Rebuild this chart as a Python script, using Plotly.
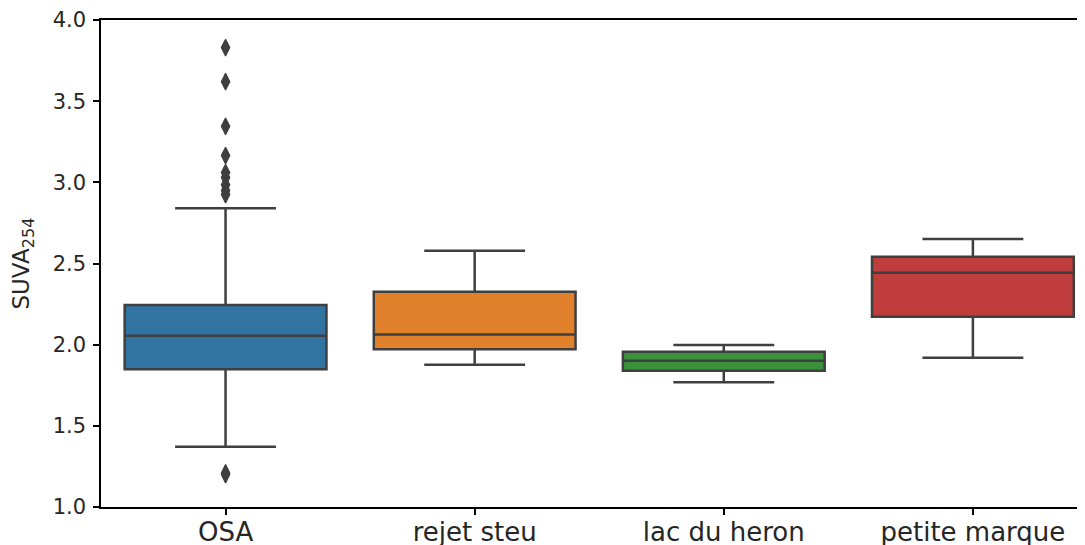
import plotly.graph_objects as go

categories = ["OSA", "rejet steu", "lac du heron", "petite marque"]
q1 = [1.848, 1.971, 1.840, 2.172]
median = [2.055, 2.063, 1.901, 2.443]
q3 = [2.244, 2.326, 1.957, 2.542]
lower_whisker = [1.371, 1.877, 1.768, 1.920]
upper_whisker = [2.840, 2.579, 1.998, 2.651]
colors = ["#3274a1", "#e1812c", "#3a923a", "#c03d3e"]

outlier_category = ["OSA"] * 11
outlier_values = [3.83, 3.62, 3.345, 3.165, 3.06, 3.03, 2.985, 2.95, 2.925, 1.21, 1.20]

y_ticks = [1.0, 1.5, 2.0, 2.5, 3.0, 3.5, 4.0]

edge = "#3f3f3f"
fig = go.Figure()
for i, cat in enumerate(categories):
    fig.add_trace(go.Box(
        x=[cat], q1=[q1[i]], median=[median[i]], q3=[q3[i]],
        lowerfence=[lower_whisker[i]], upperfence=[upper_whisker[i]],
        fillcolor=colors[i], line=dict(color=edge, width=2.5),
        width=0.81, whiskerwidth=0.5, boxpoints=False, showlegend=False,
        hoverinfo="skip",
    ))

fig.add_trace(go.Scatter(
    x=outlier_category, y=outlier_values, mode="markers",
    marker=dict(symbol="diamond-tall", size=12, color=edge,
                line=dict(color=edge, width=1.2)),
    showlegend=False, hoverinfo="skip",
))

# page body has an 8px default margin; compensate so plot area sits at (101,20)-(1085,507)
fig.update_layout(
    width=1077, height=537,
    margin=dict(l=93, r=0, t=12, b=38, autoexpand=False),
    paper_bgcolor="white", plot_bgcolor="white",
    boxmode="overlay",
    font=dict(family="DejaVu Sans", color="#262626"),
)
fig.update_xaxes(
    type="category", categoryorder="array", categoryarray=categories,
    range=[-0.5, 3.45], showgrid=False, zeroline=False, automargin=False,
    showline=True, linecolor="black", linewidth=1.5, mirror=True,
    ticks="outside", ticklen=6, tickwidth=1.5, tickcolor="black",
    ticklabelstandoff=-5,
    tickfont=dict(size=26, family="DejaVu Sans", color="#262626"),
)
fig.update_yaxes(
    range=[1.0, 4.0], tickvals=y_ticks, ticktext=[f"{v:.1f}" for v in y_ticks],
    showgrid=False, zeroline=False, automargin=False,
    showline=True, linecolor="black", linewidth=1.5,
    ticks="outside", ticklen=6, tickwidth=1.5, tickcolor="black",
    ticklabelstandoff=3,
    tickfont=dict(size=21, family="DejaVu Sans", color="#262626"),
    title=dict(text="SUVA<sub>254</sub>", font=dict(size=23, family="DejaVu Sans", color="#262626"), standoff=18),
)

fig.write_html("out.html")
